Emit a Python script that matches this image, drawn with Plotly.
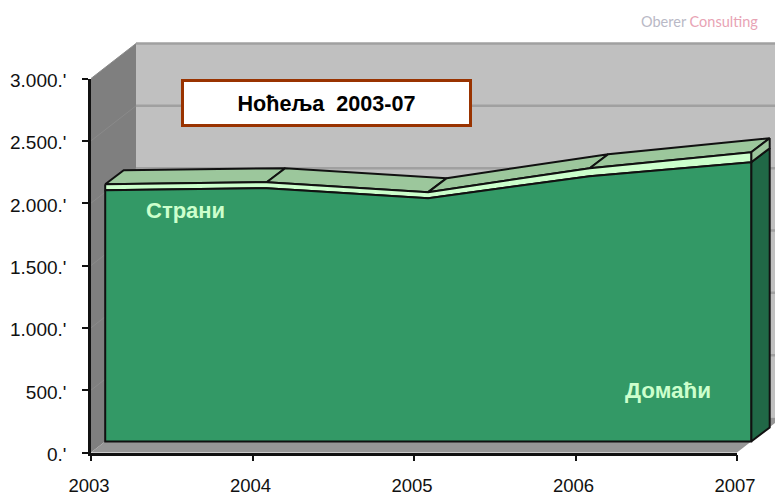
import plotly.graph_objects as go

years = [2003, 2004, 2005, 2006, 2007]
domaci = [2016, 2032, 1952, 2128, 2240]
strani = [48, 48, 48, 64, 80]
y_ticks = [0, 500, 1000, 1500, 2000, 2500, 3000]
y_tick_labels = ["0.'", "500.'", "1.000.'", "1.500.'", "2.000.'", "2.500.'", "3.000.'"]

W, H = 775, 495
X0, X1 = 91, 737
Y0, Y3 = 452.5, 78.5
PX_YEAR = (X1 - X0) / 4
PX_VAL = (Y0 - Y3) / 3000

# full-canvas scales that share units with the visible axes
x_range = [2003 - X0 / PX_YEAR, 2003 + (W - X0) / PX_YEAR]
y_range = [-(H - Y0) / PX_VAL, Y0 / PX_VAL]

# depth offsets (years, value units)
def dxp(p): return p / PX_YEAR
def dyp(p): return p / PX_VAL

WALL_DX, WALL_DY = dxp(45), dyp(35)
FRONT_DX, FRONT_DY = dxp(14.2), dyp(11)
DEPTH_DX, DEPTH_DY = dxp(18.5), dyp(14)

fig = go.Figure()

def poly(xs, ys, fill, line=None, width=0):
    fig.add_trace(go.Scatter(
        x=list(xs) + [xs[0]], y=list(ys) + [ys[0]], mode="lines", fill="toself",
        fillcolor=fill, line=dict(color=line or fill, width=width if line else 0),
        hoverinfo="skip", showlegend=False))

def seg(xs, ys, color, width):
    fig.add_trace(go.Scatter(x=xs, y=ys, mode="lines", line=dict(color=color, width=width),
                             hoverinfo="skip", showlegend=False))

a, b = years[0], years[-1]
top = y_ticks[-1]

# walls
poly([a + WALL_DX, b + WALL_DX, b + WALL_DX, a + WALL_DX],
     [WALL_DY, WALL_DY, top + WALL_DY, top + WALL_DY], "#C0C0C0")
poly([a, a + WALL_DX, a + WALL_DX, a], [top, top + WALL_DY, WALL_DY, 0], "#7F7F7F")
poly([a, b, b + WALL_DX, a + WALL_DX], [0, 0, WALL_DY, WALL_DY], "#969696")

# grid
for t in y_ticks[1:]:
    seg([a + WALL_DX, b + WALL_DX], [t + WALL_DY] * 2, "#A0A0A0", 2.5)
    seg([a, a + WALL_DX], [t, t + WALL_DY], "#8A8A8A", 1)

# area geometry
xf = [y + FRONT_DX for y in years]
base = FRONT_DY
d_top = [base + v for v in domaci]
s_top = [base + d + s for d, s in zip(domaci, strani)]
xb = [x + DEPTH_DX for x in xf]
s_back = [v + DEPTH_DY for v in s_top]

EDGE = "#111111"
# top faces
for i in range(4):
    poly([xf[i], xf[i + 1], xb[i + 1], xb[i]], [s_top[i], s_top[i + 1], s_back[i + 1], s_back[i]],
         "#9CC79C", EDGE, 2)

# right side
poly([xf[-1], xb[-1], xb[-1], xf[-1]],
     [base, base + DEPTH_DY, d_top[-1] + DEPTH_DY, d_top[-1]], "#206846", EDGE, 2)
poly([xf[-1], xb[-1], xb[-1], xf[-1]],
     [d_top[-1], d_top[-1] + DEPTH_DY, s_back[-1], s_top[-1]], "#9CC79C", EDGE, 2)

# front faces
poly(xf + xf[::-1], s_top + d_top[::-1], "#CCFFCC", EDGE, 2)
poly(xf + xf[::-1], d_top + [base] * 5, "#339966", EDGE, 2)

# visible axes
fig.add_trace(go.Scatter(x=years, y=domaci, xaxis="x2", yaxis="y2", mode="none",
                         hoverinfo="skip", showlegend=False))

font = "Liberation Sans, Arial, sans-serif"
fig.update_layout(
    width=W, height=H, margin=dict(l=0, r=0, t=0, b=0, autoexpand=False),
    paper_bgcolor="white", plot_bgcolor="rgba(0,0,0,0)", showlegend=False,
    xaxis=dict(domain=[0, 1], range=x_range, visible=False, fixedrange=True),
    yaxis=dict(domain=[0, 1], range=y_range, visible=False, fixedrange=True),
    xaxis2=dict(domain=[X0 / W, X1 / W], range=[a, b], anchor="y2", tickmode="array",
                tickvals=years, ticktext=[str(y) for y in years], ticks="outside", ticklen=6,
                tickwidth=2, tickcolor="#111111", showline=True, linecolor="#111111", linewidth=2.5,
                showgrid=False, zeroline=False, ticklabelstandoff=9, ticklabelshift=-2,
                tickfont=dict(family=font, size=18.5, color="#111111")),
    yaxis2=dict(domain=[(H - Y0) / H, (H - Y3) / H], range=[0, top], anchor="x2", tickmode="array",
                tickvals=y_ticks, ticktext=y_tick_labels, ticks="outside", ticklen=6,
                tickwidth=2, tickcolor="#111111", showline=True, linecolor="#111111", linewidth=2.5,
                showgrid=False, zeroline=False, ticklabelstandoff=12, ticklabelshift=2,
                tickfont=dict(family=font, size=19, color="#111111")),
)

def ann(text, px, py, size, color, bold=True, **kw):
    kw.setdefault("xanchor", "center")
    fig.add_annotation(xref="paper", yref="paper", x=px / W, y=1 - py / H, yanchor="middle",
                       text=f"<b>{text}</b>" if bold else text,
                       showarrow=False, font=dict(family=kw.pop("family", font), size=size, color=color), **kw)

ann("Ноћеља  2003-07", 326, 102.5, 21.6, "#000000", width=285, height=42, bgcolor="white",
    bordercolor="#993300", borderwidth=3, borderpad=0, align="center", valign="middle")
ann("Страни", 185, 210, 22, "#CCFFCC")
ann("Домаћи", 668, 390, 22.5, "#CCFFCC")
ann('<span style="color:#B9B9C6">Oberer</span> <span style="color:#E8A3B4">Consulting</span>',
    760, 21, 14.5, "#B9B9C6", bold=False, xanchor="right", family="Lato, sans-serif")

fig.write_html("out.html", config={"displayModeBar": False, "responsive": False},
               post_script="document.body.style.margin='0';document.documentElement.style.overflow='hidden';")
